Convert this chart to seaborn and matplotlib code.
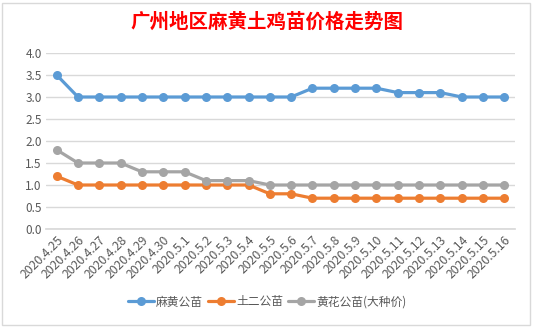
import matplotlib
matplotlib.use("Agg")
import matplotlib.pyplot as plt
import seaborn as sns
import pandas as pd
from matplotlib.patches import Rectangle

dates = ["2020.4.25", "2020.4.26", "2020.4.27", "2020.4.28", "2020.4.29", "2020.4.30",
         "2020.5.1", "2020.5.2", "2020.5.3", "2020.5.4", "2020.5.5", "2020.5.6",
         "2020.5.7", "2020.5.8", "2020.5.9", "2020.5.10", "2020.5.11", "2020.5.12",
         "2020.5.13", "2020.5.14", "2020.5.15", "2020.5.16"]
mahuang = [3.5, 3.0, 3.0, 3.0, 3.0, 3.0, 3.0, 3.0, 3.0, 3.0, 3.0, 3.0,
           3.2, 3.2, 3.2, 3.2, 3.1, 3.1, 3.1, 3.0, 3.0, 3.0]
tuer = [1.2, 1.0, 1.0, 1.0, 1.0, 1.0, 1.0, 1.0, 1.0, 1.0, 0.8, 0.8,
        0.7, 0.7, 0.7, 0.7, 0.7, 0.7, 0.7, 0.7, 0.7, 0.7]
huanghua = [1.8, 1.5, 1.5, 1.5, 1.3, 1.3, 1.3, 1.1, 1.1, 1.1, 1.0, 1.0,
            1.0, 1.0, 1.0, 1.0, 1.0, 1.0, 1.0, 1.0, 1.0, 1.0]
series_names = ["麻黄公苗", "土二公苗", "黄花公苗(大种价)"]
title = "广州地区麻黄土鸡苗价格走势图"
yticks = [0.0, 0.5, 1.0, 1.5, 2.0, 2.5, 3.0, 3.5, 4.0]

df = pd.concat([
    pd.DataFrame({"date": dates, "price": vals, "series": name})
    for name, vals in zip(series_names, [mahuang, tuer, huanghua])
], ignore_index=True)

sns.set_theme(style="white")
plt.rcParams["font.family"] = ["Noto Sans CJK SC", "DejaVu Sans"]

fig = plt.figure(figsize=(5.34, 3.28), dpi=100)
fig.patch.set_facecolor("white")
ax = fig.add_axes([46/534, 1 - 229/328, (515 - 46)/534, (229 - 53)/328])

palette = ["#5B9BD5", "#ED7D31", "#A5A5A5"]
sns.lineplot(data=df, x="date", y="price", hue="series", palette=palette,
             marker="o", markersize=6.5, markeredgewidth=0, linewidth=2.3,
             sort=False, ax=ax, legend=True)

ax.set_xlim(-0.5, len(dates) - 0.5)
ax.set_ylim(0, 4.0)
ax.set_yticks(yticks)
ax.set_yticklabels([f"{v:.1f}" for v in yticks])
ax.yaxis.grid(True, color="#D9D9D9", linewidth=1)
ax.xaxis.grid(False)
for s in ax.spines.values():
    s.set_visible(False)
ax.spines["bottom"].set_visible(True)
ax.spines["bottom"].set_color("#D9D9D9")
ax.set_xlabel("")
ax.set_ylabel("")
ax.tick_params(axis="both", length=0, colors="#595959", labelsize=8.5, pad=3)
ax.set_xticks(range(len(dates)))
ax.set_xticklabels(dates, rotation=45, ha="right", rotation_mode="anchor")
for lbl in ax.get_xticklabels():
    lbl.set_fontsize(8.8)

h, l = ax.get_legend_handles_labels()
ax.legend(h, l, loc="center", bbox_to_anchor=(0.5, (328 - 302) / 328), bbox_transform=fig.transFigure,
          ncol=3, frameon=False, fontsize=8.5, handlelength=2.2, columnspacing=0.4, handletextpad=0.2,
          labelcolor="#595959")

fig.text(0.5, 1 - 22/328, title, ha="center", va="center", color="#FF0000",
         fontsize=14, fontweight="bold")

fig.patches.append(Rectangle((2/534, 3/328), 528/534, 322/328, transform=fig.transFigure,
                             fill=False, edgecolor="#D9D9D9", linewidth=1))

fig.savefig("out.png", dpi=100, facecolor="white")
